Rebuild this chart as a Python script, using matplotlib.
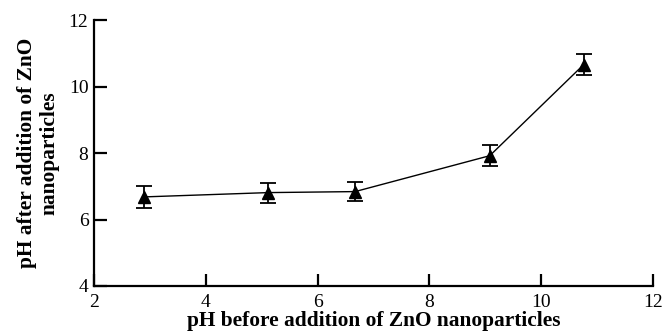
import numpy as np
import matplotlib
matplotlib.use("Agg")
import matplotlib.pyplot as plt

# Dados
ph_antes = [2.89, 5.12, 6.67, 9.08, 10.76]
ph_depois = [6.68, 6.81, 6.84, 7.92, 10.66]
erro = [0.32, 0.30, 0.29, 0.31, 0.32]

x_ticks = [2, 4, 6, 8, 10, 12]
y_ticks = [4, 6, 8, 10, 12]

plt.rcParams['font.family'] = ['Liberation Serif', 'DejaVu Serif']

fig = plt.figure(figsize=(6.64, 3.35), dpi=100)
ax = fig.add_axes([0.1416, 0.1463, 0.8418, 0.7937])

ax.errorbar(ph_antes, ph_depois, yerr=erro, color='black', linewidth=1.0,
            marker='^', markersize=9, ecolor='black', elinewidth=1.3,
            capsize=5.5, capthick=1.3)

ax.set_xlim(2, 12)
ax.set_ylim(4, 12)
ax.set_xticks(x_ticks)
ax.set_yticks(y_ticks)

ax.spines['top'].set_visible(False)
ax.spines['right'].set_visible(False)
ax.spines['left'].set_linewidth(1.6)
ax.spines['bottom'].set_linewidth(1.6)
ax.tick_params(direction='in', length=9, width=1.6, labelsize=14, pad=4)
ax.tick_params(axis='x', pad=6)

ax.set_xlabel("pH before addition of ZnO nanoparticles", fontsize=15.4,
              fontweight='bold', labelpad=0)
ax.set_ylabel("pH after addition of ZnO\nnanoparticles", fontsize=15.4,
              fontweight='bold', labelpad=7, linespacing=1.15)

fig.savefig("out.png", dpi=100)
